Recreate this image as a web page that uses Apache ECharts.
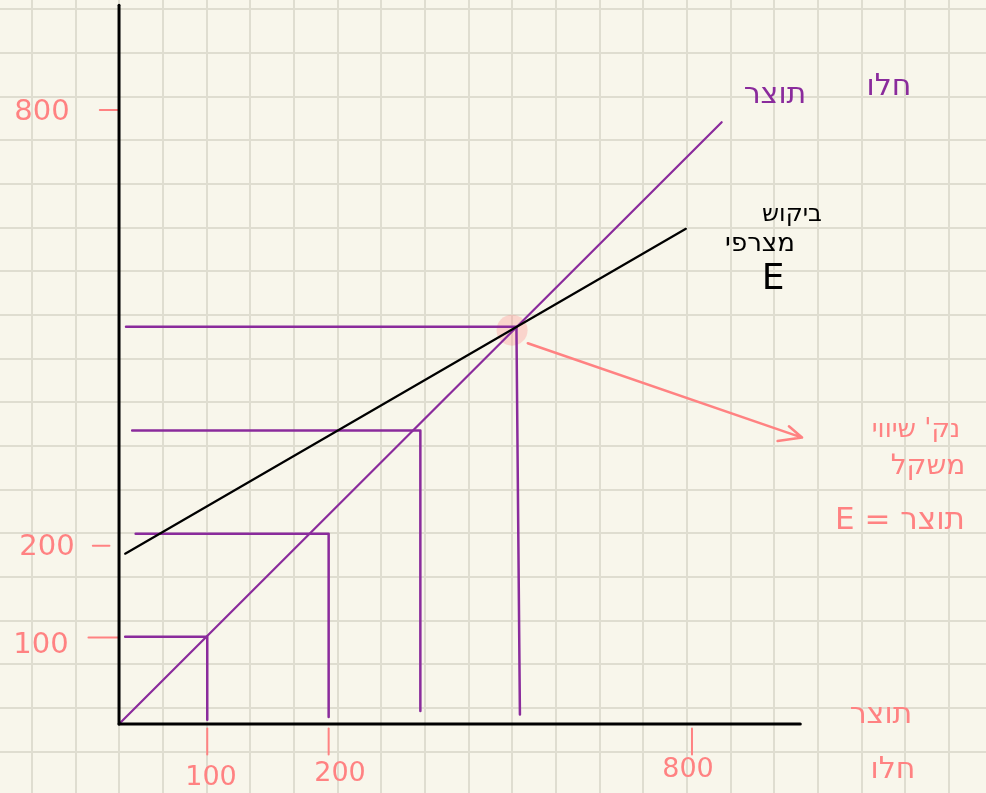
<!DOCTYPE html>
<html>
<head>
<meta charset="utf-8">
<title>ביקוש מצרפי ותוצר</title>
<script src="https://cdn.jsdelivr.net/npm/echarts@6/dist/echarts.min.js"></script>
<style>
  html, body { margin: 0; padding: 0; background: #f8f6eb; }
  #main { width: 986px; height: 793px; }
</style>
</head>
<body>
<div id="main"></div>
<script>
// paper units: one grid square = 50, origin where the hand drawn axes meet
var axisX = [[0, 0], [780, 0]];
var axisY = [[0, 0], [0, 823]];
var outputLine = [[0, 0], [690, 689]];      // 45 degree line, E = Y
var demandLine = [[7, 195], [649, 567]];    // aggregate demand
var guide1 = [[7, 100], [101, 100], [101, 5]];
var guide2 = [[19, 218], [240, 218], [240, 8]];
var guide3 = [[15, 336], [345, 336], [345, 15]];
var guide4 = [[8, 455], [455, 455], [459, 11]];
var equilibrium = [[450, 451]];
var arrowLine = [[468, 436], [782, 328], [767, 341], [782, 328], [754, 324]];

var xTickLabels = ['100', '200', '800'];
var xTickAt = [101, 240, 656];
var yTickLabels = ['100', '200', '800'];
var yTickAt = [99, 204, 703];

var purple = '#8a2b9c';
var pink = '#ff8282';

var chart = echarts.init(document.getElementById('main'));

function seg(pts, color, width, z) {
  return {
    type: 'line',
    data: pts,
    symbol: 'none',
    showSymbol: false,
    silent: true,
    xAxisIndex: 0,
    yAxisIndex: 0,
    z: z || 3,
    lineStyle: { color: color, width: width, cap: 'round', join: 'round' },
    itemStyle: { color: color }
  };
}

var series = [
  {
    type: 'scatter',
    data: equilibrium,
    symbolSize: 31,
    silent: true,
    z: 1,
    itemStyle: { color: 'rgba(255,135,135,0.38)' }
  },
  seg(guide1, purple, 2.5),
  seg(guide2, purple, 2.5),
  seg(guide3, purple, 2.5),
  seg(guide4, purple, 2.5),
  seg(outputLine, purple, 2.2),
  seg(demandLine, '#000', 2.2),
  seg(axisX, '#000', 3, 4),
  seg(axisY, '#000', 3, 4),
  seg(arrowLine, pink, 2.5)
];

// hand drawn pink tick marks
var yDashFrom = [-35, -30, -22];
var yDashTo = [-1, -11, -1];
for (var i = 0; i < yTickAt.length; i++) {
  series.push(seg([[yDashFrom[i], yTickAt[i]], [yDashTo[i], yTickAt[i]]], pink, 2));
}
for (var j = 0; j < xTickAt.length; j++) {
  series.push(seg([[xTickAt[j], -5], [xTickAt[j], -35]], pink, 2));
}

var hand = '"DejaVu Sans", "Liberation Sans", sans-serif';
function txt(x, y, s, color, size) {
  return {
    type: 'text', x: x, y: y, silent: true, z: 10,
    style: {
      text: s, fill: color, font: size + 'px ' + hand,
      textAlign: 'center', textVerticalAlign: 'middle',
      align: 'center', verticalAlign: 'middle'
    }
  };
}

var graphics = [
  txt(775, 95, 'תוצר', purple, 30),
  txt(889, 87, 'חלו', purple, 30),
  txt(792, 215, 'ביקוש', '#000', 24),
  txt(760, 244, 'מצרפי', '#000', 26),
  txt(773, 280, 'E', '#000', 36),
  txt(916, 430, "נק' שיווי", pink, 26),
  txt(928, 467, 'משקל', pink, 28),
  txt(900, 521, 'E = תוצר', pink, 31),
  txt(881, 715, 'תוצר', pink, 30),
  txt(893, 770, 'חלו', pink, 30)
];
var xLabelPx = [[211, 778], [340, 774], [688, 770]];
var yLabelPx = [[41, 645], [47, 547], [42, 112]];
for (var k = 0; k < 3; k++) {
  graphics.push(txt(xLabelPx[k][0], xLabelPx[k][1], xTickLabels[k], pink, 27));
  graphics.push(txt(yLabelPx[k][0], yLabelPx[k][1], yTickLabels[k], pink, 29));
}

var paperLine = { show: true, lineStyle: { color: '#dfddd0', width: 2 } };

chart.setOption({
  backgroundColor: '#f8f6eb',
  animation: false,
  grid: {
    left: -11.97, top: -34.67, width: 1004.4, height: 829.7,
    containLabel: false, outerBoundsMode: 'none'
  },
  xAxis: [
    { type: 'value', min: -150, max: 1000, show: false },
    { type: 'value', min: 0, max: 23, interval: 1, axisLine: { show: false },
      axisTick: { show: false }, axisLabel: { show: false }, splitLine: paperLine }
  ],
  yAxis: [
    { type: 'value', min: -81.3, max: 868.7, show: false },
    { type: 'value', min: 0, max: 19, interval: 1, axisLine: { show: false },
      axisTick: { show: false }, axisLabel: { show: false }, splitLine: paperLine }
  ],
  series: series,
  graphic: graphics
});
</script>
</body>
</html>
